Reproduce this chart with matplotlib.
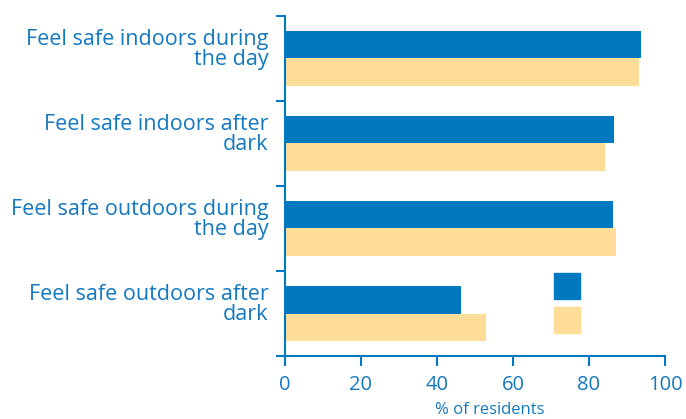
import matplotlib
matplotlib.use('Agg')
import matplotlib.pyplot as plt
import matplotlib.transforms as mtransforms
from matplotlib.patches import Rectangle
import numpy as np

# survey results, % of residents
categories = ['Feel safe indoors during\nthe day',
              'Feel safe indoors after\ndark',
              'Feel safe outdoors during\nthe day',
              'Feel safe outdoors after\ndark']
series_a = [93.7, 86.6, 86.3, 46.3]   # dark blue
series_b = [93.2, 84.2, 87.1, 53.0]   # pale yellow
xticks = [0, 20, 40, 60, 80, 100]

blue = '#0079c1'
yellow = '#fedd99'
txt = '#1479bf'

plt.rcParams['font.family'] = ['Open Sans', 'DejaVu Sans']

fig = plt.figure(figsize=(6.86, 4.19), dpi=100)
ax = fig.add_axes([285/686, 63/419, 380/686, 340/419])

y = np.arange(len(categories))
h = 0.318
ax.barh(y - h/2, series_a, height=h, color=blue)
ax.barh(y + h/2, series_b, height=h, color=yellow)

ax.set_xlim(0, 100)
ax.set_ylim(len(categories) - 0.5, -0.5)

# legend swatches (no text)
ax.add_patch(Rectangle((0.708, 0.168), 0.068, 0.076, transform=ax.transAxes, color=blue))
ax.add_patch(Rectangle((0.708, 0.068), 0.068, 0.076, transform=ax.transAxes, color=yellow))

for s in ['top', 'right']:
    ax.spines[s].set_visible(False)
for s in ['left', 'bottom']:
    ax.spines[s].set_color(blue)
    ax.spines[s].set_linewidth(1.5)

# y ticks at category boundaries, labels at the centres
ax.set_yticks(np.arange(len(categories) + 1) - 0.5)
ax.set_yticklabels([])
ax.set_yticks(y, minor=True)
ax.set_yticklabels(categories, minor=True, fontsize=15.5, color=txt, linespacing=0.95)
ax.tick_params(axis='y', which='major', length=6.5, width=1.5, color=blue)
ax.tick_params(axis='y', which='minor', length=0, pad=12)
offset = mtransforms.ScaledTranslation(0, 8/72, fig.dpi_scale_trans)
for lab in ax.get_yticklabels(minor=True):
    lab.set_transform(lab.get_transform() + offset)

ax.set_xticks(xticks)
ax.set_xticklabels([str(t) for t in xticks], fontsize=14.5, color=txt)
ax.tick_params(axis='x', length=7, width=1.5, color=blue, pad=7)

ax.set_xlabel('% of residents', fontsize=12, color=txt)
ax.xaxis.set_label_coords(0.54, -0.135)

plt.savefig('out.png', dpi=100)
